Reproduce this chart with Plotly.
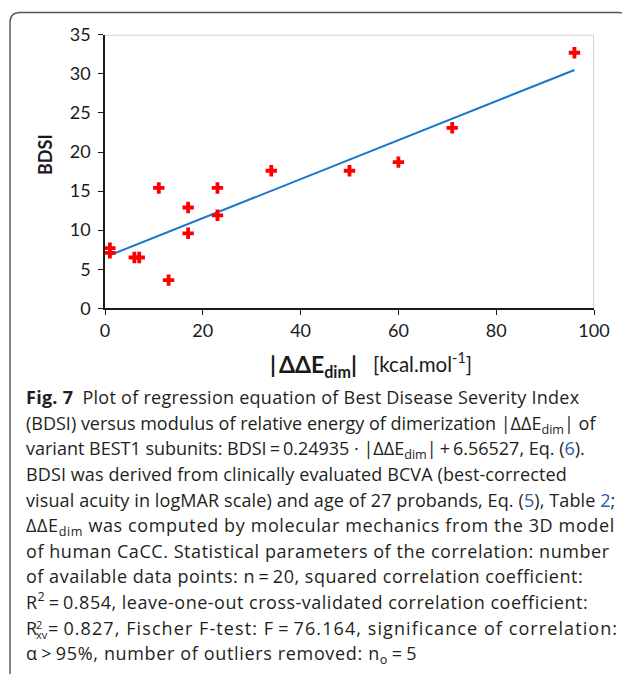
import plotly.graph_objects as go

# Figure sized to fit inside the page's 8px body margin (no scrollbars)
OFF = 8
W, H = 630 - 2 * OFF, 682 - 2 * OFF

# ---------------- data ----------------
dE_dim = [1, 1, 6, 7, 11, 13, 17, 17, 23, 23, 34, 50, 60, 71, 96]
bdsi = [7.7, 7.1, 6.5, 6.5, 15.4, 3.6, 12.9, 9.6, 15.4, 11.9, 17.6, 17.6, 18.7, 23.1, 32.7]
fit_x = [1, 96]
fit_y = [6.8, 30.5]
x_ticks = [0, 20, 40, 60, 80, 100]
y_ticks = [0, 5, 10, 15, 20, 25, 30, 35]

BLUE_LINK = "#2a5caa"
lk = lambda s: f"<span style='color:{BLUE_LINK}'>{s}</span>"
T = "\u2009"

caption_lines = [
    "<b>Fig. 7</b>\u2002Plot of regression equation of Best Disease Severity Index",
    "(BDSI) versus modulus of relative energy of dimerization |ΔΔE<sub>dim</sub>| of",
    f"variant BEST1 subunits: BDSI{T}={T}0.24935 · |ΔΔE<sub>dim</sub>|{T}+{T}6.56527, Eq. ({lk('6')}).",
    "BDSI was derived from clinically evaluated BCVA (best-corrected",
    f"visual acuity in logMAR scale) and age of 27 probands, Eq. ({lk('5')}), Table {lk('2')};",
    "ΔΔE<sub>dim</sub> was computed by molecular mechanics from the 3D model",
    "of human CaCC. Statistical parameters of the correlation: number",
    f"of available data points: n{T}={T}20, squared correlation coefficient:",
    f"R<sup>2</sup>{T}={T}0.854, leave-one-out cross-validated correlation coefficient:",
    None,  # line with stacked R^2_xv, built below
    f"α{T}>{T}95%, number of outliers removed: n<sub>o</sub>{T}={T}5",
]
line10_rest = f"={T}0.827, Fischer F-test: F{T}={T}76.164, significance of correlation:"
# per-line tracking (px) so each line spans the same width as in the reference
caption_tracking = [0.26, 0.0, 0.0, 0.11, 0.11, 0.62, 0.55, 0.52, 0.5, 1.08, 0.65]

# ---------------- geometry (target pixels in the screenshot) ----------------
PL, PR, PT, PB = 105, 594, 34.8, 308.3
CHART_FONT = "Lato"
CAP_FONT = "Open Sans"
TXT = "#1a1a1a"
CAP_COL = "#231f20"


def gx(x):
    return x - OFF


def gy(y):
    return y - OFF


def track(s, ls):
    return f"<span style='letter-spacing:{ls}px'>{s}</span>" if ls else s


fig = go.Figure()

# regression line
fig.add_trace(go.Scatter(x=fit_x, y=fit_y, mode="lines",
                         line=dict(color="#1878CF", width=2),
                         hoverinfo="skip", showlegend=False))
# data points
fig.add_trace(go.Scatter(x=dE_dim, y=bdsi, mode="markers",
                         marker=dict(symbol="cross", size=9.5, color="#ff0000",
                                     line=dict(width=0)),
                         showlegend=False))

# ---------- text on an invisible full-page pixel subplot ----------
cap_x0, cap_base0, cap_step, cap_fs = 26, 406, 25.6, 18
tx, ty, tt, ts = [], [], [], []


def put(x, baseline, text, size):
    tx.append(gx(x))
    ty.append(gy(baseline - 0.35 * size))
    tt.append(text)
    ts.append(size)


for i, s in enumerate(caption_lines):
    b = cap_base0 + cap_step * i
    if s is None:
        put(cap_x0, b, "R", cap_fs)
        put(cap_x0 + 10, b - 6.5, "2", 11)
        put(cap_x0 + 10, b + 4, "xv", 11)
        put(cap_x0 + 22, b, track(line10_rest, caption_tracking[i]), cap_fs)
    else:
        put(cap_x0, b, track(s, caption_tracking[i]), cap_fs)

fig.add_trace(go.Scatter(x=tx, y=ty, text=tt, mode="text", textposition="middle right",
                         textfont=dict(family=CAP_FONT, size=ts, color=CAP_COL),
                         xaxis="x2", yaxis="y2", hoverinfo="skip", showlegend=False))

# x-axis title pieces
xt_x, xt_y, xt_t, xt_s = [], [], [], []
for x, b, t, s in [(270, 375, "<b>|\u2009ΔΔE<sub>dim</sub>|</b>", 23),
                   (373, 374, "[kcal.mol<sup>-1</sup>]", 20.5)]:
    xt_x.append(gx(x)); xt_y.append(gy(b - 0.35 * s)); xt_t.append(t); xt_s.append(s)
fig.add_trace(go.Scatter(x=xt_x, y=xt_y, text=xt_t, mode="text", textposition="middle right",
                         textfont=dict(family=CHART_FONT, size=xt_s, color=TXT),
                         xaxis="x2", yaxis="y2", hoverinfo="skip", showlegend=False))

axis_common = dict(showgrid=False, zeroline=False, showline=True, linecolor=TXT,
                   linewidth=1.5, ticks="outside", ticklen=5, tickwidth=1.4,
                   tickcolor=TXT, tickfont=dict(family=CHART_FONT, size=18, color=TXT),
                   fixedrange=True)

fig.update_layout(
    width=W, height=H, margin=dict(l=0, r=0, t=0, b=0, autoexpand=False),
    paper_bgcolor="white", plot_bgcolor="rgba(0,0,0,0)",
    xaxis=dict(domain=[gx(PL) / W, gx(PR) / W], range=[0, 100], tickvals=x_ticks,
               anchor="y", **axis_common),
    yaxis=dict(domain=[1 - gy(PB) / H, 1 - gy(PT) / H], range=[0, 35], tickvals=y_ticks,
               anchor="x", ticklabelstandoff=4, **axis_common),
    xaxis2=dict(domain=[0, 1], range=[0, W], visible=False, anchor="y2", fixedrange=True),
    yaxis2=dict(domain=[0, 1], range=[H, 0], visible=False, anchor="x2", fixedrange=True),
    showlegend=False,
)

# light-grey frame (top and right of plot area)
fig.add_shape(type="line", xref="x", yref="y", x0=0, x1=100, y0=35, y1=35,
              line=dict(color="#bfbfbf", width=1.3), layer="below")
fig.add_shape(type="line", xref="x", yref="y", x0=100, x1=100, y0=0, y1=35,
              line=dict(color="#bfbfbf", width=1.3), layer="below")

# rounded page border (its right and bottom sides fall outside the picture)
L, R, Tp, B, r = gx(10), gx(628.5), gy(12.5), gy(686), 10
path = (f"M {L},{B - r} L {L},{Tp + r} Q {L},{Tp} {L + r},{Tp} "
        f"L {R - r},{Tp} Q {R},{Tp} {R},{Tp + r} L {R},{B - r} "
        f"Q {R},{B} {R - r},{B} L {L + r},{B} Q {L},{B} {L},{B - r} Z")
fig.add_shape(type="path", xref="x2", yref="y2", path=path,
              line=dict(color="#555555", width=1.4), layer="above")

# y-axis title
fig.add_annotation(xref="x2", yref="y2", x=gx(45), y=gy(155), text="<b>BDSI</b>", textangle=-90,
                   showarrow=False, font=dict(family=CHART_FONT, size=18, color=TXT))

fig.write_html("out.html")
